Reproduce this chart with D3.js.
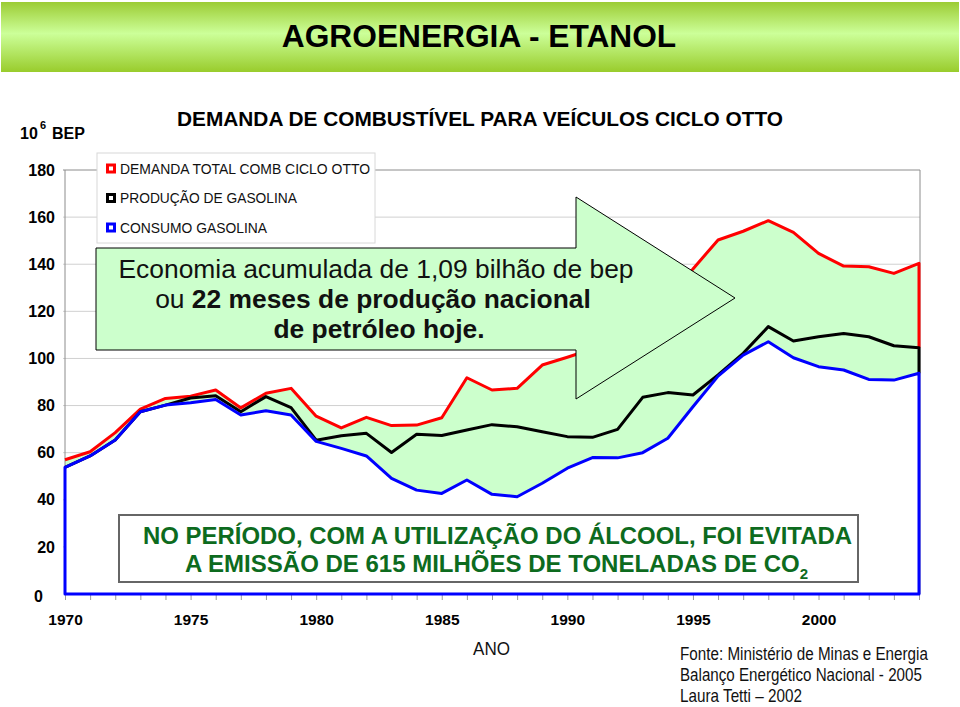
<!DOCTYPE html>
<html><head><meta charset="utf-8">
<script src="https://cdn.jsdelivr.net/npm/d3@7"></script>
<style>
body{margin:0;background:#fff}
svg{font-family:"Liberation Sans",Arial,Helvetica,sans-serif;display:block}
</style></head>
<body><svg id="chart" width="960" height="707"></svg>
<script>
// ---------- DATA ----------
const years = [1970,1971,1972,1973,1974,1975,1976,1977,1978,1979,
               1980,1981,1982,1983,1984,1985,1986,1987,1988,1989,
               1990,1991,1992,1993,1994,1995,1996,1997,1998,1999,
               2000,2001,2002,2003,2004];
const demanda = [57.0,60.4,68.5,78.5,83.0,84.0,86.6,79.0,85.2,87.3,
                 75.5,70.5,75.0,71.5,71.7,74.8,91.8,86.6,87.3,97.2,
                 100.5,104.0,108.0,117.0,127.0,138.0,150.3,154.0,158.5,153.5,
                 144.6,139.2,138.9,136.1,140.4];
const producao = [53.8,58.6,65.4,77.4,80.2,83.2,84.2,77.4,83.8,79.1,
                  65.3,67.2,68.2,60.1,67.8,67.3,69.6,71.9,71.0,68.9,
                  66.8,66.5,69.9,83.5,85.5,84.5,93.0,102.2,113.5,107.4,
                  109.2,110.6,109.2,105.4,104.5];
const consumo = [53.8,58.6,65.4,77.4,80.2,81.2,82.6,76.0,77.8,76.0,
                 64.8,61.8,58.6,49.1,44.1,42.7,48.4,42.3,41.3,47.0,
                 53.4,57.9,57.8,60.0,66.1,79.5,92.5,101.4,107.1,100.3,
                 96.5,95.1,91.1,90.8,93.7];
const yTickValues = [0,20,40,60,80,100,120,140,160,180];
const xLabelYears = [1970,1975,1980,1985,1990,1995,2000];
const seriesNames = ["DEMANDA TOTAL COMB CICLO OTTO","PRODUÇÃO DE GASOLINA","CONSUMO GASOLINA"];
const seriesColors = ["#ff0000","#000000","#0000ff"];
const legendTextWidths = [250,177,147];

// ---------- SETUP ----------
const svg = d3.select("#chart");
const x = d3.scaleLinear().domain([1970,2004]).range([65,919]);
const y = d3.scaleLinear().domain([0,180]).range([594,170]);
const plotLeft = 65, plotRight = 920;

// helper: horizontally squeeze a text to a target width (narrow font look)
function squeeze(sel, x0, targetW){
  const n = sel.node().getComputedTextLength();
  const s = Math.min(1, targetW / n);
  sel.attr("x", 0).attr("transform", `translate(${x0},0) scale(${s},1)`);
}

// banner
const defs = svg.append("defs");
const g = defs.append("linearGradient").attr("id","ban").attr("x1",0).attr("y1",0).attr("x2",0).attr("y2",1);
g.append("stop").attr("offset","0%").attr("stop-color","#9ccc34");
g.append("stop").attr("offset","45%").attr("stop-color","#ccff99");
g.append("stop").attr("offset","100%").attr("stop-color","#99cc2c");
svg.append("rect").attr("x",1).attr("y",2).attr("width",958).attr("height",70).attr("fill","url(#ban)");
svg.append("text").attr("x",479).attr("y",47).attr("text-anchor","middle")
  .style("font-size","31.7px").attr("font-weight","bold").attr("fill","#000")
  .text("AGROENERGIA - ETANOL");

// chart title
svg.append("text").attr("x",177).attr("y",126).style("font-size","20.7px").attr("font-weight","bold")
  .attr("textLength",606).attr("lengthAdjust","spacingAndGlyphs")
  .text("DEMANDA DE COMBUSTÍVEL PARA VEÍCULOS CICLO OTTO");

// unit label
const ul = svg.append("text").attr("y",139).attr("font-weight","bold").style("font-size","16px");
ul.append("tspan").attr("x",20).text("10");
ul.append("tspan").attr("x",40).attr("dy",-10).style("font-size","11px").text("6");
ul.append("tspan").attr("x",52).attr("dy",10).text("BEP");

// gridlines
svg.append("g").selectAll("line").data(yTickValues.filter(v=>v>0)).join("line")
  .attr("x1",plotLeft-2).attr("x2",plotRight).attr("y1",d=>y(d)).attr("y2",d=>y(d))
  .attr("stroke",d=>d===180?"#8c8c8c":"#d0d0d0").attr("stroke-width",1);

// areas
const idx = years.map((_,i)=>i);
const areaGen = arr => d3.area().x(i=>x(years[i])).y0(y(0)).y1(i=>y(arr[i]))(idx);
svg.append("path").attr("d",areaGen(demanda)).attr("fill","#ccffcc");
svg.append("path").attr("d",areaGen(consumo)).attr("fill","#ffffff");

// borders
svg.append("line").attr("x1",plotLeft).attr("x2",plotLeft).attr("y1",y(180)).attr("y2",y(0)).attr("stroke","#8c8c8c");
svg.append("line").attr("x1",plotRight).attr("x2",plotRight).attr("y1",y(180)).attr("y2",y(0)).attr("stroke","#8c8c8c");

// y axis labels
const yAxis = d3.axisLeft(y).tickValues(yTickValues).tickSize(0).tickPadding(10).tickFormat(d3.format("d"));
const yg = svg.append("g").attr("transform",`translate(${plotLeft},0)`).call(yAxis);
yg.select(".domain").remove();
yg.selectAll("text").style("font-size","16px").attr("font-weight","bold").attr("fill","#000")
  .style("font-family","Liberation Sans, Arial, sans-serif");
yg.selectAll(".tick").filter(d=>d===0).select("text").attr("x",-22).attr("dy","0.45em");

// x axis
const xAxis = d3.axisBottom(x).tickValues(years).tickSize(6)
  .tickFormat(d=>xLabelYears.includes(d)?String(d):"");
const xg = svg.append("g").attr("transform",`translate(0,${y(0)})`).call(xAxis);
xg.select(".domain").remove();
xg.selectAll("line").attr("stroke","#9a9a9a");
xg.selectAll("text").attr("y",31).attr("dy",0).style("font-size","15.5px").attr("font-weight","bold")
  .attr("fill","#000").style("font-family","Liberation Sans, Arial, sans-serif");

// lines
const pts = arr => years.map((yr,i)=>[x(yr),y(arr[i])]);
const last = years.length-1;
const lineGen = d3.line();
const redPts = pts(demanda).concat([[x(years[last]),y(producao[last])]]);
const blackPts = pts(producao).concat([[x(years[last]),y(consumo[last])]]);
const bluePts = [[x(years[0]),y(0)]].concat(pts(consumo),[[x(years[last]),y(0)]]);
svg.append("path").attr("d",lineGen(redPts)).attr("fill","none").attr("stroke",seriesColors[0]).attr("stroke-width",3).attr("stroke-linejoin","round");
svg.append("path").attr("d",lineGen(blackPts)).attr("fill","none").attr("stroke",seriesColors[1]).attr("stroke-width",3).attr("stroke-linejoin","round");
svg.append("path").attr("d",lineGen(bluePts)+"Z").attr("fill","none").attr("stroke",seriesColors[2]).attr("stroke-width",3).attr("stroke-linejoin","round");

// legend
const lg = svg.append("g");
lg.append("rect").attr("x",97).attr("y",153).attr("width",278).attr("height",90)
  .attr("fill","#fff").attr("stroke","#d8d8d8");
seriesNames.forEach((nm,i)=>{
  const cy = 168.5 + i*29.5;
  lg.append("rect").attr("x",107.5).attr("y",cy-3.5).attr("width",7).attr("height",7)
    .attr("fill","#fff").attr("stroke",seriesColors[i]).attr("stroke-width",3);
  lg.append("text").attr("x",120).attr("y",cy+5).style("font-size","13.8px").attr("fill","#111")
    .attr("textLength",legendTextWidths[i]).attr("lengthAdjust","spacingAndGlyphs").text(nm);
});

// arrow
svg.append("polygon")
  .attr("points",[[96,248],[576,248],[576,197],[735,298],[576,399],[576,350],[96,350]].map(p=>p.join(",")).join(" "))
  .attr("fill","#ccffcc").attr("stroke","#000").attr("stroke-width",1);
svg.append("text").attr("x",376).attr("y",278).attr("text-anchor","middle").style("font-size","26.4px")
  .attr("textLength",515).attr("lengthAdjust","spacingAndGlyphs").attr("fill","#111")
  .text("Economia acumulada de 1,09 bilhão de bep");
const l2 = svg.append("text").attr("x",373).attr("y",308).attr("text-anchor","middle").style("font-size","26.4px").attr("fill","#111");
l2.append("tspan").text("ou ");
l2.append("tspan").attr("font-weight","bold").text("22 meses de produção nacional");
svg.append("text").attr("x",379).attr("y",338).attr("text-anchor","middle").style("font-size","26.4px")
  .attr("font-weight","bold").attr("fill","#111").text("de petróleo hoje.");

// CO2 box
svg.append("rect").attr("x",119).attr("y",515).attr("width",739).attr("height",67)
  .attr("fill","#fff").attr("stroke","#666").attr("stroke-width",2);
svg.append("text").attr("x",497.5).attr("y",543.5).attr("text-anchor","middle").style("font-size","24px")
  .attr("font-weight","bold").attr("fill","#0d6b1e").attr("textLength",709).attr("lengthAdjust","spacingAndGlyphs")
  .text("NO PERÍODO, COM A UTILIZAÇÃO DO ÁLCOOL, FOI EVITADA");
const c2 = svg.append("text").attr("x",185).attr("y",572).style("font-size","24px").attr("font-weight","bold").attr("fill","#0d6b1e");
c2.append("tspan").text("A EMISSÃO DE 615 MILHÕES DE TONELADAS DE CO");
c2.append("tspan").attr("dy",7).style("font-size","15px").text("2");

// axis title
const ano = svg.append("text").attr("y",655).style("font-size","19px").attr("fill","#111").text("ANO");
squeeze(ano, 473, 37);

// source
const srcLines = ["Fonte: Ministério de Minas e Energia","Balanço Energético Nacional - 2005","Laura Tetti – 2002"];
const srcW = [248,242,122];
const srcY = [660.5,681.5,702];
srcLines.forEach((t,i)=>{
  const s = svg.append("text").attr("y",srcY[i]).style("font-size","18.5px").attr("fill","#111").text(t);
  squeeze(s, 680, srcW[i]);
});
</script></body></html>
